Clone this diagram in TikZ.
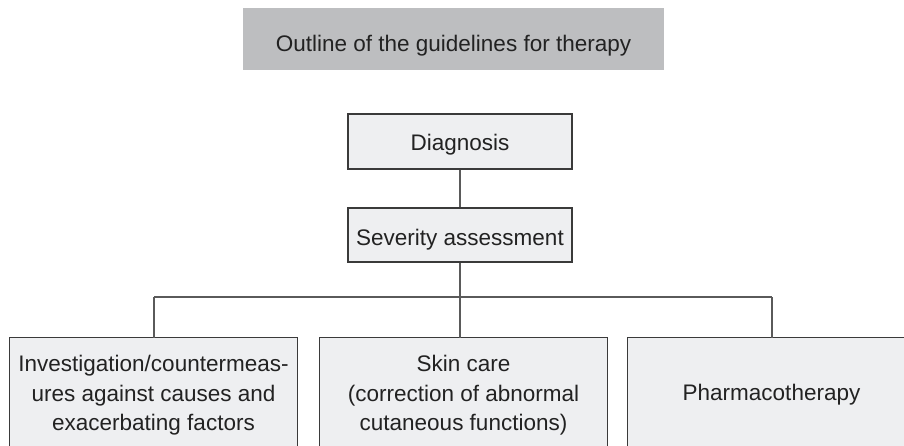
\documentclass[tikz,border=0pt]{standalone}
\usepackage{fontspec}
\setmainfont{Liberation Sans}
\definecolor{titlegray}{HTML}{BDBEC0}
\definecolor{boxfill}{HTML}{EEEFF1}
\definecolor{boxline}{HTML}{3A3A3A}
\definecolor{connline}{HTML}{5A5A5A}
\definecolor{txt}{HTML}{222222}
\begin{document}
\begin{tikzpicture}[x=1pt,y=-1pt,
  every node/.style={font=\fontsize{22.5}{29.5}\selectfont, text=txt, inner sep=0pt},
  titlebox/.style={fill=titlegray, minimum width=421, minimum height=62, text height=26, text depth=0pt},
  midbox/.style={fill=boxfill, draw=boxline, line width=1.1pt, minimum width=224, text depth=0pt},
  lowbox/.style={fill=boxfill, minimum width=287, minimum height=116, align=center},
  boxedge/.style={draw=boxline, line width=1.1pt},
  conn/.style={draw=connline, line width=1.3pt}]
\useasboundingbox (0,0) rectangle (904,446);
\clip (0,0) rectangle (904,446);
\node[titlebox] (title) at (453.5,39) {Outline of the guidelines for therapy};
\node[midbox, minimum height=55, text height=19] (diag) at (460,141.5) {Diagnosis};
\node[midbox, minimum height=54, text height=20] (sev) at (460,235) {Severity assessment};
\node[lowbox] (left) at (153.5,396) {};
\node[lowbox] (mid) at (463.5,396) {};
\node[lowbox] (right) at (771.5,396) {};
\node[align=center] (lefttxt) at (153.5,395.2) {Investigation/countermeas-\\ures against causes and\\exacerbating factors};
\node[align=center] (midtxt) at (463.5,395.2) {Skin care\\(correction of abnormal\\cutaneous functions)};
\node (righttxt) at (771.5,394.2) {Pharmacotherapy};
\draw[boxedge] (left.south west) -- (left.north west) -- (left.north east) -- (left.south east);
\draw[boxedge] (mid.south west) -- (mid.north west) -- (mid.north east) -- (mid.south east);
\draw[boxedge] (right.south west) -- (right.north west) -- (right.north east) -- (right.south east);
\coordinate (hl) at (154,297);
\coordinate (j) at (460,297);
\coordinate (hr) at (772,297);
\draw[conn] (diag.south) -- (sev.north);
\draw[conn] (sev.south) -- (j);
\draw[conn] (hl) -- (hr);
\draw[conn] (hl) -- (hl |- left.north);
\draw[conn] (j) -- (j |- mid.north);
\draw[conn] (hr) -- (hr |- right.north);
\end{tikzpicture}
\end{document}
